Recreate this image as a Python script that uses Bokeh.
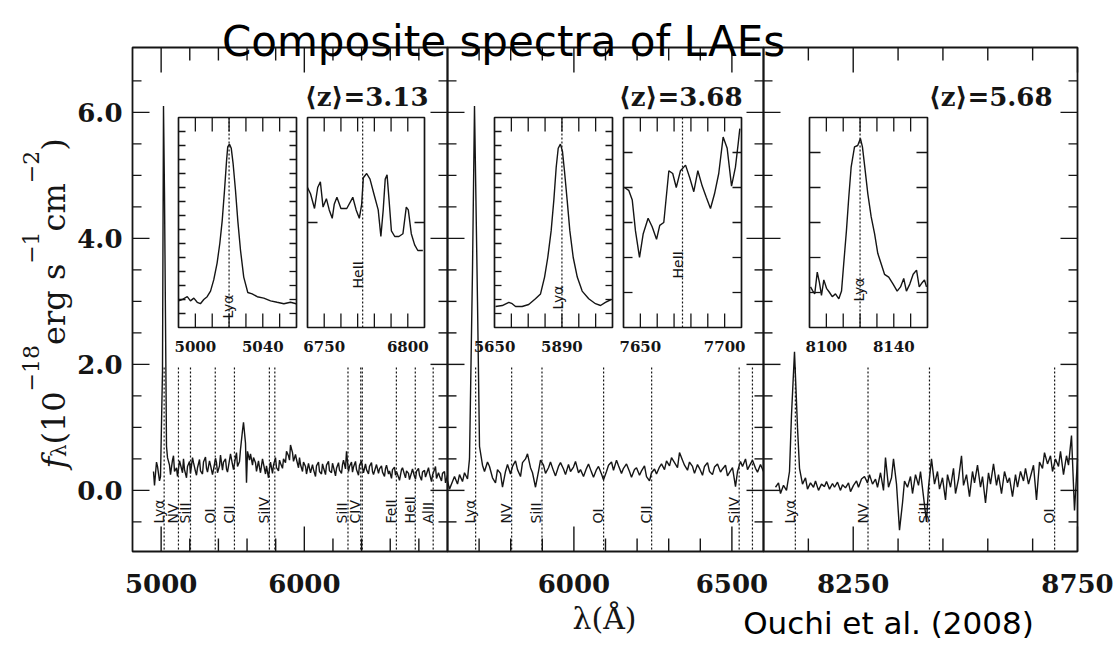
import numpy as np
from bokeh.plotting import figure
from bokeh.models import Range1d
from bokeh.core.properties import value
from bokeh.embed import file_html
from bokeh.resources import INLINE

# ------------------------------------------------------------------ chart values
title = "Composite spectra of LAEs"
credit = "Ouchi et al. (2008)"
x_title = "λ(Å)"
y_title_parts = ["f", "λ", "(10", "−18", "erg s", "−1", "cm", "−2", ")"]
z_text = ["⟨z⟩=3.13", "⟨z⟩=3.68", "⟨z⟩=5.68"]

# wavelength range (Å) of the three panels and the common flux range
panel_xr = [(4800, 7000), (5600, 6600), (8050, 8750)]
flux_range = (-0.97, 7.03)

x_major = [[5000, 6000], [6000, 6500], [8250, 8750]]
x_minor = [[5200, 5400, 5600, 5800, 6200, 6400, 6600, 6800],
           [5700, 5800, 5900, 6100, 6200, 6300, 6400],
           [8150, 8350, 8450, 8550, 8650]]
y_major = [0, 2, 4, 6]
y_major_text = ["0.0", "2.0", "4.0", "6.0"]
y_minor = [-0.5, 0.5, 1.0, 1.5, 2.5, 3.0, 3.5, 4.5, 5.0, 5.5, 6.5]

# composite spectra: first wavelength, sampling step (Å), flux (1e-18 erg/s/cm2)
spec1_start, spec1_step = 4950, 10
spec1_flux = [
    0.30, 0.08, 0.45, 0.38, 0.15, 0.22, 1.90, 6.10, 4.70, 0.70,
    0.52, 0.40, 0.25, 0.48, 0.55, 0.30, 0.36, 0.22, 0.47, 0.41,
    0.28, 0.50, 0.33, 0.20, 0.38, 0.46, 0.27, 0.52, 0.44, 0.30,
    0.24, 0.36, 0.49, 0.31, 0.26, 0.45, 0.53, 0.35, 0.29, 0.47,
    0.40, 0.25, 0.33, 0.51, 0.44, 0.28, 0.39, 0.56, 0.32, 0.45,
    0.50, 0.34, 0.29, 0.48, 0.58, 0.41, 0.33, 0.52, 0.60, 0.38,
    0.46, 0.65, 0.95, 1.08, 0.75, 0.12, 0.62, 0.48, 0.58, 0.40,
    0.52, 0.44, 0.30, 0.47, 0.36, 0.28, 0.50, 0.42, 0.26, 0.39,
    0.20, 0.34, 0.45, 0.27, 0.40, 0.52, 0.36, 0.31, 0.48, 0.43,
    0.35, 0.50, 0.44, 0.62, 0.55, 0.48, 0.72, 0.60, 0.46, 0.57,
    0.49, 0.36, 0.52, 0.41, 0.30, 0.45, 0.38, 0.26, 0.43, 0.35,
    0.28, 0.41, 0.33, 0.22, 0.39, 0.45, 0.30, 0.26, 0.42, 0.36,
    0.25, 0.40, 0.46, 0.31, 0.28, 0.43, 0.37, 0.23, 0.35, 0.44,
    0.32, 0.27, 0.41, 0.48, 0.34, 0.62, 0.30, 0.38, 0.45, 0.29,
    0.37, 0.46, 0.33, 0.24, 0.40, 0.47, 0.36, 0.28, 0.42, 0.33,
    0.26, 0.38, 0.44, 0.30, 0.25, 0.36, 0.41, 0.27, 0.34, 0.39,
    0.29, 0.22, 0.35, 0.40, 0.26, 0.31, 0.19, 0.33, 0.37, 0.24,
    0.30, 0.21, 0.16, 0.33, 0.36, 0.25, 0.20, 0.31, 0.27, 0.17,
    0.28, 0.34, 0.22, 0.18, 0.30, 0.35, 0.24, 0.16, 0.29, 0.32,
    0.21, 0.26, 0.36, 0.27, 0.14, 0.24, 0.33, 0.38, 0.19, 0.28,
    0.23, 0.15, 0.27, 0.30, 0.12, 0.24]

spec2_start, spec2_step = 5600, 8
spec2_flux = [
    0.15, 0.02, 0.14, 0.22, 0.10, 0.25, 0.14, 0.28, 0.18, 0.50,
    3.50, 6.10, 3.00, 0.70, 0.40,
    0.30, 0.45, 0.38, 0.20, 0.12, 0.33, 0.27, 0.05, 0.30, 0.41,
    0.26, 0.38, 0.47, 0.33, 0.22, 0.44, 0.50, 0.58, 0.36, 0.28,
    0.05, 0.30, 0.48, 0.40, 0.27, 0.36, 0.45, 0.31, 0.23, 0.38,
    0.44, 0.34, 0.25, 0.41, 0.30, 0.37, 0.46, 0.28, 0.33, 0.22,
    0.35, 0.42, 0.29, 0.21, 0.33, 0.38, 0.26, 0.17, 0.30, 0.40,
    0.45, 0.32, 0.48, 0.39, 0.27, 0.35, 0.42, 0.30, 0.21, 0.33,
    0.36, 0.24, 0.31, 0.39, 0.22, 0.15, 0.28, 0.34, 0.26, 0.37,
    0.42, 0.33, 0.47, 0.39, 0.52, 0.44, 0.36, 0.60, 0.48, 0.40,
    0.32, 0.45, 0.38, 0.27, 0.41, 0.35, 0.24, 0.38, 0.44, 0.30,
    0.25, 0.37, 0.42, 0.29, 0.34, 0.40, 0.23, 0.31, 0.36, 0.06,
    0.30, 0.46, 0.38, 0.50, 0.33, 0.42, 0.48, 0.35, 0.29, 0.41,
    0.30]

spec3_start, spec3_step = 8078, 6
spec3_flux = [
    0.05, 0.12, -0.05, 0.08, 0.00, 0.30, 1.20, 2.20, 1.00, 0.35,
    0.10, 0.20, 0.02, 0.12, 0.05, 0.15, 0.00, 0.10, 0.06, 0.14,
    0.02, 0.11, 0.05, 0.13, 0.00, 0.09, 0.04, 0.12, -0.02, 0.08,
    0.15, 0.05, 0.18, 0.22, 0.12, 0.25, 0.10, 0.18, 0.05, 0.28,
    0.00, 0.52, 0.05, 0.20, 0.50, 0.10, -0.63, -0.20, 0.15, 0.05,
    0.22, -0.05, 0.25, 0.08, 0.30, -0.10, -0.50, 0.05, 0.50, 0.10,
    0.30, 0.02, 0.20, -0.15, 0.25, 0.05, 0.35, -0.05, 0.18, 0.55,
    0.08, 0.25, -0.10, 0.30, 0.12, 0.40, 0.05, 0.22, -0.20, 0.28,
    0.10, 0.42, 0.08, 0.25, -0.05, 0.30, 0.12, 0.20, -0.10, 0.25,
    0.05, 0.30, 0.15, 0.35, 0.10, 0.28, 0.40, -0.15, 0.45, 0.35,
    0.60, 0.42, 0.55, 0.30, 0.50, 0.38, 0.62, 0.25, 0.55, 0.40,
    0.87, -0.32, 0.50]

# marked spectral lines (observed wavelength, Å) and their names
lines1 = [5021, 5121, 5205, 5378, 5512, 5756, 5794, 6305, 6394, 6405, 6643, 6775, 6900]
names1 = ["Lyα", "NV", "SiII", "OI", "CII", "SiIV", "SiII", "CIV", "FeII", "HeII", "AlII"]
names1_wl = [5021, 5121, 5205, 5378, 5512, 5756, 6305, 6394, 6643, 6775, 6900]
lines2 = [5689, 5803, 5899, 6094, 6246, 6523, 6565]
names2 = ["Lyα", "NV", "SiII", "OI", "CII", "SiIV"]
names2_wl = [5689, 5803, 5899, 6094, 6246, 6523]
lines3 = [8121, 8283, 8420, 8699]
names3 = ["Lyα", "NV", "SiII", "OI"]
names3_wl = [8121, 8283, 8420, 8699]

# zoomed insets (relative flux)
inset_xr = [(4990, 5060), (6740, 6810), (5650, 5720), (7640, 7710), (8090, 8160)]
inset_line = [5020, 6773, 5690, 7675, 8120]
inset_name = ["Lyα", "HeII", "Lyα", "HeII", "Lyα"]
inset_xlab = [[5000, 5040], [6750, 6800], [5650, 5690], [7650, 7700], [8100, 8140]]
inset_xlab_text = [["5000", "5040"], ["6750", "6800"], ["5650", "5890"],
                   ["7650", "7700"], ["8100", "8140"]]
inset1_wl = [4990.0, 4992.2, 4995.2, 4997.1, 4999.1, 5001.1, 5003.0, 5005.0, 5007.0,
             5009.0, 5010.9, 5012.9, 5014.5, 5015.9, 5017.3, 5018.5, 5019.2, 5020.2,
             5021.3, 5022.4, 5023.8, 5025.2, 5026.8, 5028.7, 5031.1, 5033.7, 5036.7,
             5040.6, 5044.6, 5048.5, 5052.5, 5056.4, 5059.8]
inset1_f = [0.19, 0.20, 0.22, 0.19, 0.21, 0.18, 0.17, 0.20, 0.22, 0.26, 0.34, 0.46,
            0.60, 0.76, 0.98, 1.19, 1.29, 1.31, 1.28, 1.17, 0.98, 0.76, 0.55, 0.36,
            0.25, 0.24, 0.22, 0.21, 0.19, 0.18, 0.17, 0.18, 0.17]
inset2_wl = [6740.0, 6741.8, 6744.2, 6746.1, 6747.7, 6749.3, 6751.3, 6753.0, 6754.8,
             6756.0, 6757.6, 6760.0, 6763.5, 6767.1, 6769.1, 6771.0, 6772.4, 6773.4,
             6775.4, 6777.4, 6779.7, 6782.3, 6783.9, 6785.3, 6786.5, 6787.6, 6788.8,
             6790.2, 6792.2, 6794.7, 6797.1, 6799.1, 6800.3, 6802.1, 6804.1, 6806.0,
             6809.0]
inset2_f = [1.00, 0.955, 0.85, 1.00, 1.04, 0.86, 0.92, 0.84, 0.78, 0.88, 0.93, 0.85,
            0.85, 0.93, 0.84, 0.78, 0.88, 1.07, 1.10, 1.06, 0.955, 0.84, 0.65, 0.84,
            1.06, 1.09, 0.91, 0.69, 0.65, 0.65, 0.67, 0.86, 0.84, 0.67, 0.59, 0.55,
            0.55]
inset3_wl = [5650.6, 5654.6, 5658.5, 5660.5, 5662.5, 5666.4, 5670.3, 5674.3, 5677.3,
             5679.7, 5681.6, 5683.6, 5685.2, 5686.6, 5687.8, 5689.1, 5690.3, 5691.5,
             5693.1, 5694.7, 5696.7, 5699.1, 5702.0, 5705.9, 5709.9, 5712.9, 5715.8,
             5719.2]
inset3_f = [0.15, 0.157, 0.18, 0.17, 0.15, 0.15, 0.164, 0.205, 0.24, 0.36, 0.50, 0.69,
            0.91, 1.145, 1.28, 1.31, 1.26, 1.12, 0.91, 0.69, 0.50, 0.36, 0.26, 0.205,
            0.17, 0.157, 0.18, 0.20]
inset4_wl = [7640.6, 7643.1, 7645.2, 7647.1, 7649.5, 7651.7, 7654.6, 7657.0, 7659.6,
             7661.5, 7663.9, 7666.9, 7669.2, 7671.3, 7673.8, 7676.8, 7679.3, 7681.7,
             7684.1, 7686.7, 7689.1, 7691.6, 7694.0, 7696.5, 7699.1, 7701.5, 7704.1,
             7706.4, 7708.0, 7709.0]
inset4_f = [1.00, 0.98, 0.91, 0.69, 0.50, 0.67, 0.78, 0.72, 0.63, 0.73, 0.75, 1.12,
            1.10, 1.00, 1.12, 1.16, 1.07, 0.97, 1.12, 1.01, 0.93, 0.85, 0.955, 1.10,
            1.36, 1.28, 1.01, 1.145, 1.31, 1.42]
inset5_wl = [8090.6, 8092.0, 8093.1, 8094.6, 8095.9, 8097.1, 8098.5, 8100.1, 8101.9,
             8103.5, 8105.4, 8107.4, 8109.0, 8110.3, 8111.9, 8113.3, 8114.7, 8116.7,
             8118.6, 8120.2, 8121.4, 8122.8, 8124.6, 8126.6, 8128.6, 8130.5, 8132.5,
             8134.5, 8137.0, 8139.6, 8142.0, 8144.0, 8145.9, 8147.5, 8149.5, 8151.5,
             8153.5, 8155.1, 8156.8, 8158.2, 8159.4]
inset5_f = [0.29, 0.26, 0.24, 0.395, 0.32, 0.23, 0.34, 0.28, 0.25, 0.22, 0.24, 0.205,
            0.26, 0.455, 0.69, 0.93, 1.145, 1.29, 1.30, 1.35, 1.29, 1.145, 0.955, 0.79,
            0.67, 0.53, 0.455, 0.38, 0.36, 0.31, 0.26, 0.29, 0.35, 0.26, 0.31, 0.38,
            0.41, 0.29, 0.32, 0.34, 0.29]
inset_yr = (0.0, 1.5)

# ------------------------------------------------------------------ layout / style
W, H = 1116, 647
INK = "#151515"
PANEL_X = [132, 447, 763, 1077]
FR_TOP, FR_BOT = 47, 551
INSET_X = [(178, 296), (307, 424), (494, 612), (623, 741), (809, 927)]
IN_TOP, IN_BOT = 117, 327
SERIF = value("DejaVu Serif")
SANS = value("DejaVu Sans")

p = figure(width=W, height=H, x_range=Range1d(0, W), y_range=Range1d(0, H),
           output_backend="svg", toolbar_location=None, min_border=0,
           x_axis_location=None, y_axis_location=None)
p.outline_line_color = None
p.background_fill_color = "white"
p.border_fill_color = "white"
p.xgrid.visible = False
p.ygrid.visible = False


def make_sub(xr, yr, px, py):
    """px = (left, right), py = (top, bottom) in page pixels."""
    s = p.subplot(x_source=Range1d(xr[0], xr[1]), y_source=Range1d(yr[0], yr[1]),
                  x_target=Range1d(px[0], px[1]), y_target=Range1d(H - py[1], H - py[0]))
    kx = (px[1] - px[0]) / (xr[1] - xr[0])
    ky = (py[1] - py[0]) / (yr[1] - yr[0])
    return s, kx, ky


def xticks(s, ticks, yr, L, lw=1.4):
    n = len(ticks)
    if n == 0:
        return
    t = list(ticks)
    s.segment(x0=t + t, x1=t + t, y0=[yr[0]] * n + [yr[1]] * n,
              y1=[yr[0] + L] * n + [yr[1] - L] * n, line_color=INK, line_width=lw)


def yticks(s, ticks, xr, L, lw=1.4):
    n = len(ticks)
    if n == 0:
        return
    t = list(ticks)
    s.segment(y0=t + t, y1=t + t, x0=[xr[0]] * n + [xr[1]] * n,
              x1=[xr[0] + L] * n + [xr[1] - L] * n, line_color=INK, line_width=lw)


specs = [(spec1_start, spec1_step, spec1_flux),
         (spec2_start, spec2_step, spec2_flux),
         (spec3_start, spec3_step, spec3_flux)]
lines = [lines1, lines2, lines3]
names = [names1, names2, names3]
names_wl = [names1_wl, names2_wl, names3_wl]
Z_GAP = [19, 21, 25]
LINE_TOP_PX = 367
LABEL_BOTTOM_PX = 523

for i in range(3):
    xr, yr = panel_xr[i], flux_range
    s, kx, ky = make_sub(xr, yr, (PANEL_X[i], PANEL_X[i + 1]), (FR_TOP, FR_BOT))
    st, stp, fl = specs[i]
    wl = st + stp * np.arange(len(fl))
    s.line(x=wl, y=fl, line_color=INK, line_width=1.4)

    ltop = yr[0] + (FR_BOT - LINE_TOP_PX) / ky
    L = lines[i]
    s.segment(x0=L, x1=L, y0=[ltop] * len(L), y1=[yr[0]] * len(L),
              line_color=INK, line_width=1.2, line_dash="2 2")
    lb = yr[0] + (FR_BOT - LABEL_BOTTOM_PX) / ky
    s.text(x=[w - 5.5 / kx for w in names_wl[i]], y=[lb] * len(names[i]), text=names[i],
           angle=np.pi / 2, text_align="left", text_baseline="middle",
           text_font=SANS, text_font_size="14px", text_color=INK)

    s.quad(left=[xr[0]], right=[xr[1]], bottom=[yr[0]], top=[yr[1]],
           fill_color=None, line_color=INK, line_width=1.8)
    xticks(s, x_major[i], yr, 25 / ky)
    xticks(s, x_minor[i], yr, 13 / ky)
    yticks(s, y_major, xr, 17 / kx)
    yticks(s, y_minor, xr, 9 / kx)

    s.text(x=x_major[i], y=[yr[0] - 32 / ky] * len(x_major[i]),
           text=[str(t) for t in x_major[i]], text_align="center", text_baseline="middle",
           text_font=SERIF, text_font_style="bold", text_font_size="26px", text_color=INK)
    s.text(x=[xr[1] - Z_GAP[i] / kx], y=[yr[1] - (96 - FR_TOP) / ky], text=[z_text[i]],
           text_align="right", text_baseline="middle", text_font=SERIF,
           text_font_style="bold", text_font_size="26px", text_color=INK)
    if i == 0:
        s.text(x=[xr[0] - 10 / kx] * len(y_major), y=y_major, text=y_major_text,
               text_align="right", text_baseline="middle", text_font=SERIF,
               text_font_style="bold", text_font_size="26px", text_color=INK)

# ---------------- insets
inset_wl = [inset1_wl, inset2_wl, inset3_wl, inset4_wl, inset5_wl]
inset_f = [inset1_f, inset2_f, inset3_f, inset4_f, inset5_f]
inset_yt = [([round(0.1 * k, 1) for k in range(1, 15)], 7),
            ([0.75], 10),
            ([round(0.1 * k, 1) for k in range(1, 15)], 7),
            ([0.25, 0.5, 0.75, 1.0, 1.25], 9),
            ([0.25, 0.5, 0.75, 1.0, 1.25], 11)]
NAME_BOTTOM_PX = [318, 288, 309, 278, 301]
NAME_SHIFT_PX = [-1.5, -4.5, -4, -5, -1]

for j in range(5):
    xr, yr = inset_xr[j], inset_yr
    s, kx, ky = make_sub(xr, yr, INSET_X[j], (IN_TOP, IN_BOT))
    s.line(x=inset_wl[j], y=inset_f[j], line_color=INK, line_width=1.4)
    s.segment(x0=[inset_line[j]], x1=[inset_line[j]], y0=[yr[0]], y1=[yr[1]],
              line_color=INK, line_width=1.2, line_dash="2 2")
    s.text(x=[inset_line[j] + NAME_SHIFT_PX[j] / kx],
           y=[(IN_BOT - NAME_BOTTOM_PX[j]) / ky], text=[inset_name[j]],
           angle=np.pi / 2, text_align="left", text_baseline="middle",
           text_font=SANS, text_font_size="14px", text_color=INK)
    s.quad(left=[xr[0]], right=[xr[1]], bottom=[yr[0]], top=[yr[1]],
           fill_color=None, line_color=INK, line_width=1.7)
    xticks(s, list(range(xr[0] + 10, xr[1], 10)), yr, 14 / ky, lw=1.3)
    yt, yl = inset_yt[j]
    yticks(s, yt, xr, yl / kx, lw=1.3)
    s.text(x=inset_xlab[j], y=[-(346 - IN_BOT) / ky] * 2, text=inset_xlab_text[j],
           text_align="center", text_baseline="middle", text_font=SERIF,
           text_font_style="bold", text_font_size="15px", text_color=INK)

# ---------------- page texts (page pixel coordinates, y measured from the bottom)
p.text(x=[503], y=[H - 41], text=[title], text_align="center", text_baseline="alphabetic",
       text_font=SANS, text_font_size="42px", text_color="black")
p.text(x=[604], y=[H - 618], text=[x_title], text_align="center", text_baseline="middle",
       text_font=SERIF, text_font_size="30px", text_color=INK)
p.text(x=[888], y=[H - 622], text=[credit], text_align="center", text_baseline="middle",
       text_font=SANS, text_font_size="31px", text_color="black")

# y-axis title built from rotated pieces (reads bottom to top)
sizes = [32, 20, 32, 22, 32, 22, 32, 22, 32]
styles = ["italic", "normal", "normal", "normal", "normal", "normal", "normal", "normal", "normal"]
base_x = [53, 58, 53, 30, 53, 30, 53, 30, 53]
em_w = [0.36, 0.62, 1.662, 2.11, 2.536, 1.474, 1.508, 1.474, 0.39]
ypos = []
cur = 468
for k in range(len(y_title_parts)):
    ypos.append(H - cur)
    cur -= em_w[k] * sizes[k]
for k in range(len(y_title_parts)):
    p.text(x=[base_x[k]], y=[ypos[k]], text=[y_title_parts[k]], angle=np.pi / 2,
           text_align="left", text_baseline="alphabetic", text_font=SERIF,
           text_font_style=styles[k], text_font_size=f"{sizes[k]}px", text_color=INK)

open("out.html", "w").write(file_html(p, INLINE))
